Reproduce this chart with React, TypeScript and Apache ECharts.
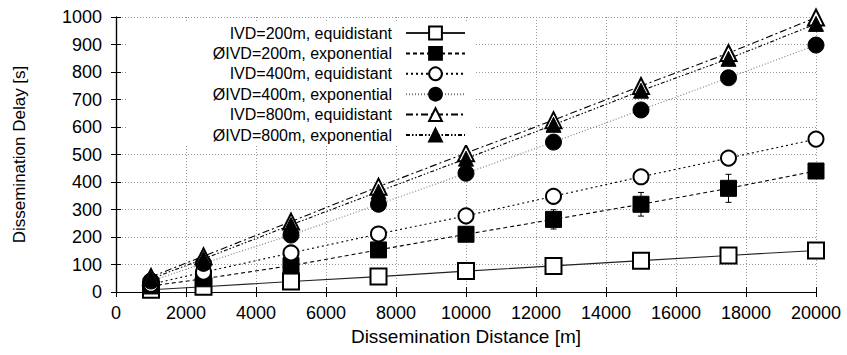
import React, { useEffect, useRef } from "react";
import * as echarts from "echarts";

const distances = [1000, 2500, 5000, 7500, 10000, 12500, 15000, 17500, 20000];
const seriesNames = [
  "IVD=200m, equidistant",
  "ØIVD=200m, exponential",
  "IVD=400m, equidistant",
  "ØIVD=400m, exponential",
  "IVD=800m, equidistant",
  "ØIVD=800m, exponential",
];
const ivd200Equi = [8, 19, 38, 56, 76, 95, 114, 133, 151];
const ivd200Exp = [22, 48, 96, 153, 210, 264, 319, 377, 440];
const ivd400Equi = [28, 72, 142, 211, 277, 348, 419, 487, 556];
const ivd400Exp = [40, 104, 207, 319, 432, 545, 662, 779, 898];
const ivd800Equi = [55, 130, 256, 383, 505, 625, 749, 869, 998];
const ivd800Exp = [48, 120, 244, 365, 485, 608, 732, 848, 975];

const err200Equi = [2, 3, 4, 5, 5, 6, 6, 7, 7];
const err200Exp = [5, 8, 14, 20, 26, 35, 43, 51, 20];
const err400Equi = [3, 5, 7, 8, 9, 9, 10, 10, 10];
const err400Exp = [3, 5, 6, 7, 8, 9, 10, 10, 10];
const err800Equi = [2, 3, 4, 5, 5, 6, 6, 7, 7];
const err800Exp = [2, 3, 4, 5, 5, 6, 6, 7, 7];

const xTicks = { min: 0, max: 20000, interval: 2000 };
const yTicks = { min: 0, max: 1000, interval: 100 };

const FONT = "'Liberation Sans', Arial, Helvetica, sans-serif";

export default function App() {
  const ref = useRef<HTMLDivElement>(null);
  useEffect(() => {
    if (!ref.current) return;
    const chart = echarts.init(ref.current, undefined, { renderer: "svg" });

    const values = [ivd200Equi, ivd200Exp, ivd400Equi, ivd400Exp, ivd800Equi, ivd800Exp];
    const errors = [err200Equi, err200Exp, err400Equi, err400Exp, err800Equi, err800Exp];
    const symbols = ["emptyRect", "rect", "emptyCircle", "circle", "emptyTriangle", "triangle"];
    const sizes = [16, 16, 15, 16, 16, 15];
    const borderWidths = [1.1, 1, 1.1, 1, 1.1, 1];
    const lineColors = ["#222", "#000", "#000", "#777", "#000", "#000"];
    const lineTypes: any[] = ["solid", [4, 3], [2, 3], [1, 2], [7, 3, 2, 3], [4, 2, 1.5, 2, 1.5, 2]];

    const errData: number[][] = [];
    values.forEach((vals, s) => {
      distances.forEach((d, i) => {
        errData.push([d, vals[i] - errors[s][i], vals[i] + errors[s][i]]);
      });
    });

    const lineSeries = values.map((vals, s) => ({
      name: seriesNames[s],
      type: "line",
      data: distances.map((d, i) => [d, vals[i]]),
      symbol: symbols[s],
      symbolSize: sizes[s],
      showAllSymbol: true,
      z: 3,
      itemStyle: { color: "#000", borderColor: "#000", borderWidth: borderWidths[s] },
      lineStyle: { color: lineColors[s], width: 1.1, type: lineTypes[s] },
      emphasis: { disabled: true },
    }));

    const errSeries = {
      type: "custom",
      name: "errors",
      z: 2,
      data: errData,
      encode: { x: 0, y: [1, 2] },
      renderItem: (params: any, api: any) => {
        const x = api.value(0);
        const p1 = api.coord([x, api.value(1)]);
        const p2 = api.coord([x, api.value(2)]);
        const w = 3;
        const st = { stroke: "#000", lineWidth: 1 };
        return {
          type: "group",
          children: [
            { type: "line", shape: { x1: p1[0], y1: p1[1], x2: p2[0], y2: p2[1] }, style: st },
            { type: "line", shape: { x1: p1[0] - w, y1: p1[1], x2: p1[0] + w, y2: p1[1] }, style: st },
            { type: "line", shape: { x1: p2[0] - w, y1: p2[1], x2: p2[0] + w, y2: p2[1] }, style: st },
          ],
        };
      },
    };

    const axisLine = { show: true, lineStyle: { color: "#000", width: 1.2 } };
    const axisTick = { show: true, inside: true, length: 5, lineStyle: { color: "#000", width: 1 } };
    const split = { show: true, lineStyle: { color: "#999", width: 1, type: [1, 2] as any } };
    const plain = (v: number) => String(v);

    chart.setOption({
      animation: false,
      backgroundColor: "#fff",
      textStyle: { fontFamily: FONT },
      grid: { left: 116, right: 31, top: 17, bottom: 63, containLabel: false },
      legend: {
        data: seriesNames,
        orient: "vertical",
        align: "right",
        right: 371,
        top: 21,
        padding: [4, 10, 2, 85],
        itemWidth: 59,
        itemHeight: 16,
        itemGap: 4.4,
        backgroundColor: "#fff",
        selectedMode: false,
        textStyle: { fontFamily: FONT, fontSize: 16, color: "#000", padding: [0, 9, 0, 0] },
      },
      xAxis: [
        {
          type: "value",
          ...xTicks,
          name: "Dissemination Distance [m]",
          nameLocation: "middle",
          nameGap: 35,
          nameTextStyle: { fontFamily: FONT, fontSize: 19, color: "#000" },
          axisLine,
          axisTick,
          splitLine: split,
          axisLabel: { fontFamily: FONT, fontSize: 18, color: "#000", margin: 12, formatter: plain },
        },
        {
          type: "value",
          ...xTicks,
          position: "top",
          axisLine,
          axisTick,
          splitLine: { show: false },
          axisLabel: { show: false },
        },
      ],
      yAxis: [
        {
          type: "value",
          ...yTicks,
          name: "Dissemination Delay [s]",
          nameLocation: "middle",
          nameGap: 88,
          nameTextStyle: { fontFamily: FONT, fontSize: 17, color: "#000" },
          axisLine,
          axisTick,
          splitLine: split,
          axisLabel: { fontFamily: FONT, fontSize: 18, color: "#000", margin: 14, formatter: plain },
        },
        {
          type: "value",
          ...yTicks,
          position: "right",
          axisLine,
          axisTick,
          splitLine: { show: false },
          axisLabel: { show: false },
        },
      ],
      series: [errSeries, ...lineSeries],
    });

    return () => chart.dispose();
  }, []);

  return (
    <div
      ref={ref}
      style={{ position: "absolute", left: 0, top: 0, width: 847, height: 355 }}
    />
  );
}
